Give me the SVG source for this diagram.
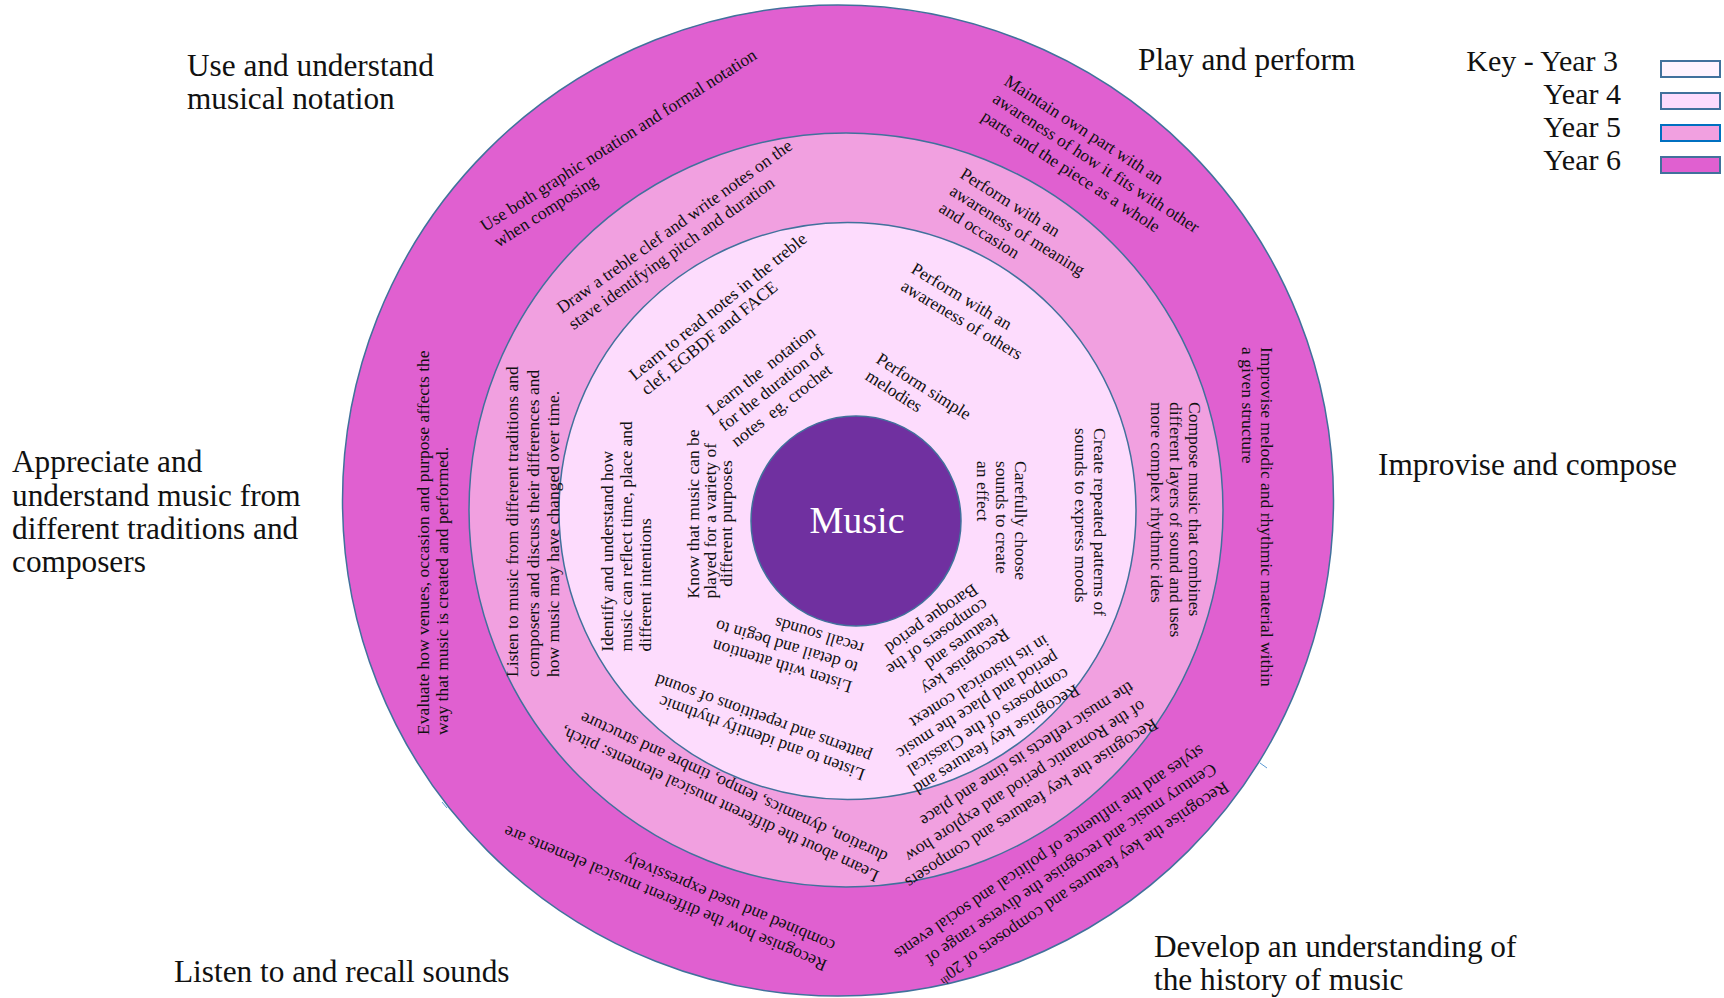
<svg xmlns="http://www.w3.org/2000/svg" width="1724" height="998" viewBox="0 0 1724 998">
<style>
.lbl{font-family:"Liberation Serif","Times New Roman",serif;font-size:31.3px;fill:#111}
.key{font-family:"Liberation Serif","Times New Roman",serif;font-size:30px;fill:#111;text-anchor:end}
.t{font-family:"Liberation Serif","Times New Roman",serif;font-size:17.5px;fill:#111}
.ring{stroke:#41719c;stroke-width:1.5}
.sw{stroke:#41719c;stroke-width:2}
</style>
<rect width="1724" height="998" fill="#ffffff"/>
<g id="rings">
<circle id="year6-ring" class="ring" cx="838" cy="500.5" r="495.5" fill="#e060d0"/>
<circle id="year5-ring" class="ring" cx="846" cy="510" r="377" fill="#f1a0e0"/>
<circle id="year4-ring" class="ring" cx="847.5" cy="511" r="288.5" fill="#fddcfd"/>
<line x1="442" y1="802" x2="447" y2="808" stroke="#5b9bd5" stroke-width="1"/>
<line x1="1260" y1="763" x2="1267" y2="768" stroke="#5b9bd5" stroke-width="1"/>
</g>
<g id="music">
<circle class="ring" cx="856" cy="521" r="105" fill="#7030a0"/>
<text x="857" y="533" font-family="Liberation Serif, serif" font-size="38" fill="#ffffff" text-anchor="middle">Music</text>
</g>
<g id="labels">
<text class="lbl" x="187" y="76">Use and understand</text>
<text class="lbl" x="187" y="109">musical notation</text>
<text class="lbl" x="1138" y="70">Play and perform</text>
<text class="lbl" x="1378" y="475">Improvise and compose</text>
<text class="lbl" x="12" y="472">Appreciate and</text>
<text class="lbl" x="12" y="506">understand music from</text>
<text class="lbl" x="12" y="539">different traditions and</text>
<text class="lbl" x="12" y="572">composers</text>
<text class="lbl" x="174" y="982">Listen to and recall sounds</text>
<text class="lbl" x="1154" y="957">Develop an understanding of</text>
<text class="lbl" x="1154" y="990">the history of music</text>
</g>
<g id="key">
<text class="key" x="1618" y="71">Key - Year 3</text>
<text class="key" x="1621" y="104">Year 4</text>
<text class="key" x="1621" y="137">Year 5</text>
<text class="key" x="1621" y="170">Year 6</text>
<rect class="sw" x="1661" y="61" width="59" height="16" fill="#fef3fe"/>
<rect class="sw" x="1661" y="93" width="59" height="16" fill="#fddcfd"/>
<rect x="1661" y="125" width="59" height="16" fill="#f1a0e0" stroke="#0070c0" stroke-width="2"/>
<rect class="sw" x="1661" y="157" width="59" height="16" fill="#e060d0"/>
</g>
<g id="year6-text">
<g id="y6-notation" transform="translate(485,232) rotate(-32.5)"><text class="t" font-size="18"><tspan x="0" y="0">Use both graphic notation and formal notation</tspan><tspan x="3" y="20.5">when composing</tspan></text></g>
<g id="y6-perform" transform="translate(1003,84) rotate(33)"><text class="t"><tspan x="0" y="0">Maintain own part with an</tspan><tspan x="0" y="21">awareness of how it fits with other</tspan><tspan x="0" y="42">parts and the piece as a whole</tspan></text></g>
<g id="y6-improvise" transform="translate(1261,347) rotate(90)"><text class="t"><tspan x="0" y="0">Improvise melodic and rhythmic material within</tspan><tspan x="0" y="19">a given structure</tspan></text></g>
<g id="y6-history" transform="translate(1224,781) rotate(146)"><text class="t" font-size="17.4"><tspan x="0" y="0">Recognise the key features and composers of 20<tspan dy="-6" font-size="11">th</tspan></tspan><tspan x="0" y="22">Century music and recognise the diverse range of</tspan><tspan x="0" y="44">styles and the influence of political and social events</tspan></text></g>
<g id="y6-listen" transform="translate(828,961) rotate(202.9)"><text class="t"><tspan x="0" y="0">Recognise how the different musical elements are</tspan><tspan x="0" y="21">combined and used expressively</tspan></text></g>
<g id="y6-appreciate" transform="translate(429,735) rotate(-90)"><text class="t"><tspan x="0" y="0">Evaluate how venues, occasion and purpose affects the</tspan><tspan x="0" y="18.5">way that music is created and performed.</tspan></text></g>
</g>
<g id="year5-text">
<g id="y5-notation" transform="translate(562,314) rotate(-35.6)"><text class="t"><tspan x="0" y="0">Draw a treble clef and write notes on the</tspan><tspan x="0" y="20">stave identifying pitch and duration</tspan></text></g>
<g id="y5-perform" transform="translate(959,177) rotate(32)"><text class="t"><tspan x="0" y="0">Perform with an</tspan><tspan x="0" y="20">awareness of meaning</tspan><tspan x="0" y="40">and occasion</tspan></text></g>
<g id="y5-compose" transform="translate(1189,402) rotate(90)"><text class="t"><tspan x="0" y="0">Compose music that combines</tspan><tspan x="0" y="19">different layers of sound and uses</tspan><tspan x="0" y="38">more complex rhythmic ides</tspan></text></g>
<g id="y5-history" transform="translate(1153,718) rotate(147)"><text class="t"><tspan x="0" y="0">Recognise the key features and composers</tspan><tspan x="0" y="22">of the Romantic period and explore how</tspan><tspan x="0" y="44">the music reflects its time and place</tspan></text></g>
<g id="y5-listen" transform="translate(880,872) rotate(204.8)"><text class="t"><tspan x="0" y="0">Learn about the different musical elements: pitch,</tspan><tspan x="0" y="21">duration, dynamics, tempo, timbre and structure</tspan></text></g>
<g id="y5-appreciate" transform="translate(518,677) rotate(-90)"><text class="t"><tspan x="0" y="0">Listen to music from different traditions and</tspan><tspan x="0" y="20.5">composers and discuss their differences and</tspan><tspan x="0" y="41">how music may have changed over time.</tspan></text></g>
</g>
<g id="year4-text">
<g id="y4-notation" transform="translate(635,381) rotate(-39)"><text class="t" font-size="18"><tspan x="0" y="0">Learn to read notes in the treble</tspan><tspan x="0" y="19">clef, EGBDF and FACE</tspan></text></g>
<g id="y4-perform" transform="translate(910,272) rotate(31)"><text class="t"><tspan x="0" y="0">Perform with an</tspan><tspan x="0" y="20">awareness of others</tspan></text></g>
<g id="y4-compose" transform="translate(1094,428) rotate(90)"><text class="t"><tspan x="0" y="0">Create repeated patterns of</tspan><tspan x="0" y="19.5">sounds to express moods</tspan></text></g>
<g id="y4-history" transform="translate(1075,684) rotate(148)"><text class="t"><tspan x="0" y="0">Recognise key features and</tspan><tspan x="0" y="19.5">composers of the Classical</tspan><tspan x="0" y="39">period and place the music</tspan><tspan x="0" y="58.5">in its historical context</tspan></text></g>
<g id="y4-listen" transform="translate(866,770) rotate(200)"><text class="t"><tspan x="0" y="0">Listen to and identify rhythmic</tspan><tspan x="0" y="19">patterns and repetitions of sound</tspan></text></g>
<g id="y4-appreciate" transform="translate(612.5,651.5) rotate(-90)"><text class="t"><tspan x="0" y="0">Identify and understand how</tspan><tspan x="0" y="19">music can reflect time, place and</tspan><tspan x="0" y="38">different intentions</tspan></text></g>
</g>
<g id="year3-text">
<g id="y3-notation" transform="translate(712,416) rotate(-38)"><text class="t" xml:space="preserve"><tspan x="0" y="0">Learn the  notation</tspan><tspan x="0" y="20">for the duration of</tspan><tspan x="0" y="40">notes  eg. crochet</tspan></text></g>
<g id="y3-perform" transform="translate(875,362) rotate(32.6)"><text class="t"><tspan x="0" y="0">Perform simple</tspan><tspan x="0" y="20">melodies</tspan></text></g>
<g id="y3-compose" transform="translate(1015,461) rotate(90)"><text class="t"><tspan x="0" y="0">Carefully choose</tspan><tspan x="0" y="19">sounds to create</tspan><tspan x="0" y="38">an effect</tspan></text></g>
<g id="y3-history" transform="translate(1004,628) rotate(145)"><text class="t"><tspan x="0" y="0">Recognise key</tspan><tspan x="0" y="18.2">features and</tspan><tspan x="0" y="36.4">composers of the</tspan><tspan x="0" y="54.6">Baroque period</tspan></text></g>
<g id="y3-listen" transform="translate(853,682) rotate(197)"><text class="t"><tspan x="0" y="0">Listen with attention</tspan><tspan x="0" y="20">to detail and begin to</tspan><tspan x="0" y="40">recall sounds</tspan></text></g>
<g id="y3-appreciate" transform="translate(698.5,598.5) rotate(-90)"><text class="t"><tspan x="0" y="0">Know that music can be</tspan><tspan x="0" y="17">played for a variety of</tspan><tspan x="11.7" y="33">different purposes</tspan></text></g>
</g>
</svg>
